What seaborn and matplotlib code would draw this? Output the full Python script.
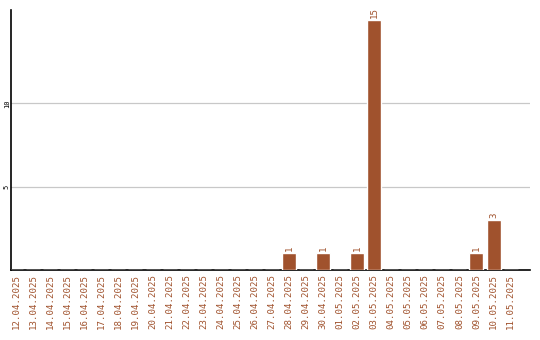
import matplotlib
matplotlib.use("Agg")
import matplotlib.pyplot as plt
import seaborn as sns
import pandas as pd

dates = ["12.04.2025", "13.04.2025", "14.04.2025", "15.04.2025", "16.04.2025",
         "17.04.2025", "18.04.2025", "19.04.2025", "20.04.2025", "21.04.2025",
         "22.04.2025", "23.04.2025", "24.04.2025", "25.04.2025", "26.04.2025",
         "27.04.2025", "28.04.2025", "29.04.2025", "30.04.2025", "01.05.2025",
         "02.05.2025", "03.05.2025", "04.05.2025", "05.05.2025", "06.05.2025",
         "07.05.2025", "08.05.2025", "09.05.2025", "10.05.2025", "11.05.2025"]
counts = [0, 0, 0, 0, 0, 0, 0, 0, 0, 0, 0, 0, 0, 0, 0, 0, 1, 0, 1, 0,
          1, 15, 0, 0, 0, 0, 0, 1, 3, 0]
y_ticks = [5, 10]

color = "#A0522D"
sns.set_theme(style="white")
plt.rcParams["font.family"] = ["DejaVu Sans Mono"]

df = pd.DataFrame({"date": dates, "count": counts})
fig = plt.figure(figsize=(5.4, 3.4), dpi=100)
ax = fig.add_axes([11/540, 70/340, 519/540, 260/340])
sns.barplot(data=df, x="date", y="count", color=color, saturation=1,
            width=0.82, ax=ax, zorder=3)
ax.set_xlim(-0.3, 30.14)
ax.set_ylim(0, 15.6)
ax.set_yticks(y_ticks)
ax.set_yticklabels([str(t) for t in y_ticks], rotation=90, fontsize=5, va="center",
                   color="black")
ax.tick_params(axis="y", length=0, pad=0.8)
ax.tick_params(axis="x", length=0, pad=3)
ax.set_xticks(range(len(dates)))
ax.set_xticklabels(dates, rotation=90, fontsize=6.6, color=color)
ax.yaxis.grid(True, color="#c8c8c8", linewidth=0.9, zorder=0)
ax.set_axisbelow(True)
for s in ["top", "right"]:
    ax.spines[s].set_visible(False)
for s in ["left", "bottom"]:
    ax.spines[s].set_color("black")
    ax.spines[s].set_linewidth(1.2)
ax.set_xlabel("")
ax.set_ylabel("")
for i, v in enumerate(counts):
    if v > 0:
        ax.text(i, v + 0.12, str(v), rotation=90, ha="center", va="bottom",
                fontsize=6.6, color=color)
fig.savefig("out.png", dpi=100)
